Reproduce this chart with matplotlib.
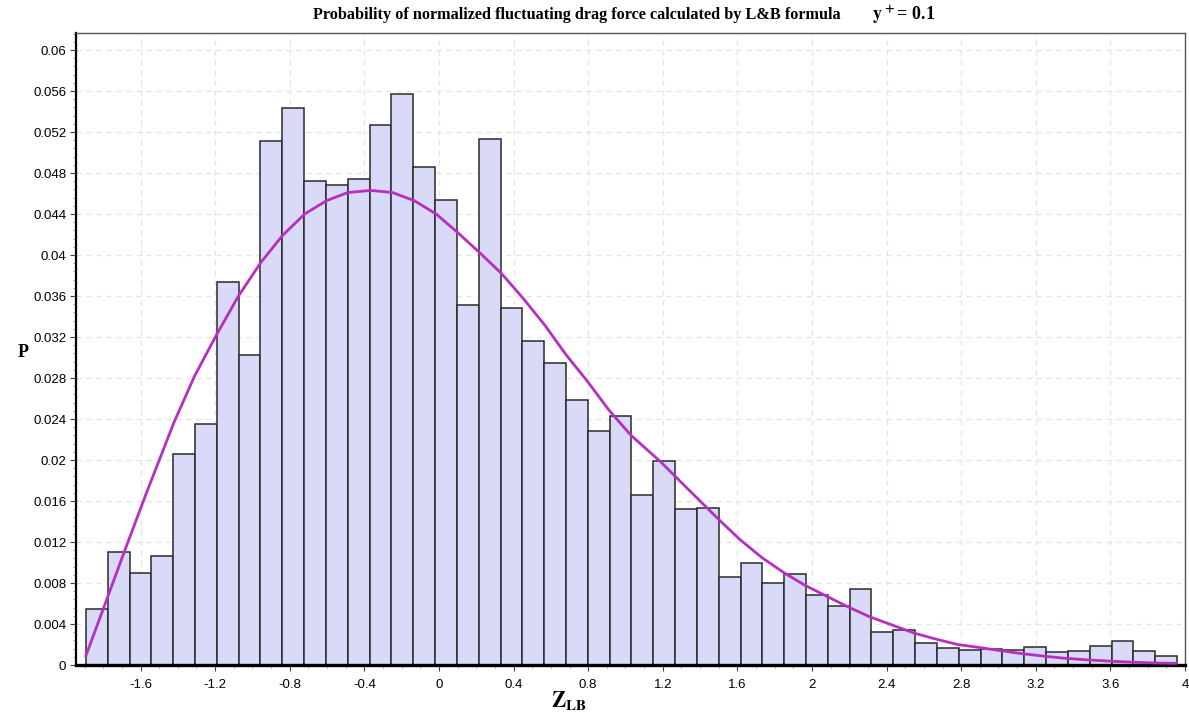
import numpy as np
import matplotlib.pyplot as plt
from matplotlib.ticker import MultipleLocator, FuncFormatter

plt.rcParams['mathtext.fontset'] = 'stix'

# histogram: 50 equal bins starting at bin_start
bin_start = -1.893
bin_width = 0.117
prob = [0.0055, 0.0110, 0.0090, 0.0106, 0.0206, 0.0235, 0.0374, 0.0302, 0.0511, 0.0543,
        0.0472, 0.0468, 0.0474, 0.0527, 0.0557, 0.0486, 0.0454, 0.0351, 0.0513, 0.0348,
        0.0316, 0.0295, 0.0259, 0.0228, 0.0243, 0.0166, 0.0199, 0.0152, 0.0153, 0.0086,
        0.0100, 0.0080, 0.0089, 0.0068, 0.0058, 0.0074, 0.0032, 0.0034, 0.0021, 0.0017,
        0.0015, 0.0016, 0.0015, 0.0018, 0.0013, 0.0014, 0.0019, 0.0023, 0.0014, 0.0009]

# fitted L&B density (per bin)
fit_z = [-1.893, -1.777, -1.684, -1.568, -1.42, -1.31, -1.19, -1.075, -0.954, -0.839, -0.72,
         -0.603, -0.488, -0.366, -0.25, -0.132, -0.015, 0.10, 0.22, 0.335, 0.45,
         0.57, 0.68, 0.795, 0.91, 1.03, 1.19, 1.30, 1.40, 1.50, 1.61,
         1.73, 1.85, 1.96, 2.08, 2.19, 2.31, 2.43, 2.55, 2.67, 2.78,
         2.90, 3.01, 3.13, 3.25, 3.36, 3.48, 3.60, 3.71, 3.83, 3.95]
fit_p = [0.0009, 0.0066, 0.0112, 0.0168, 0.0237, 0.0282, 0.0323, 0.0360, 0.0393, 0.0419, 0.0440,
         0.0453, 0.0461, 0.0463, 0.0461, 0.0453, 0.0440, 0.0422, 0.0402, 0.0382, 0.0358,
         0.0331, 0.0303, 0.0277, 0.0249, 0.0224, 0.0198, 0.0178, 0.0160, 0.0142, 0.0123,
         0.0105, 0.0090, 0.0078, 0.0067, 0.0057, 0.0047, 0.0039, 0.0031, 0.0025, 0.0020,
         0.0017, 0.0014, 0.0011, 0.00085, 0.00065, 0.0005, 0.00037, 0.00028, 0.0002, 0.00016]

edges = bin_start + bin_width * np.arange(len(prob))

fig = plt.figure(figsize=(11.89, 7.14), dpi=100)
ax = fig.add_axes([76 / 1189, 1 - 665 / 714, 1109 / 1189, 632 / 714])

ax.bar(edges, prob, width=bin_width, align='edge', color='#d9d9f8',
       edgecolor='#2a2a2a', linewidth=1.1, zorder=2)
ax.plot(fit_z, fit_p, color='#b52fc0', linewidth=2.0, zorder=3)

ax.set_xlim(-1.946, 4.0)
ax.set_ylim(0, 0.06166)

ax.xaxis.set_major_locator(MultipleLocator(0.4))
ax.xaxis.set_minor_locator(MultipleLocator(0.1))
ax.yaxis.set_major_locator(MultipleLocator(0.004))
ax.yaxis.set_minor_locator(MultipleLocator(0.0008))
ax.xaxis.set_major_formatter(FuncFormatter(lambda v, p: f'{round(v, 2):g}'))
ax.yaxis.set_major_formatter(FuncFormatter(lambda v, p: f'{round(v, 4):g}'))

ax.grid(True, which='major', color='#e2e2e2', linestyle=(0, (4, 4)), linewidth=0.9, zorder=0)
ax.set_axisbelow(True)

for lab in ax.get_xticklabels() + ax.get_yticklabels():
    lab.set_family('Liberation Sans')
    lab.set_fontsize(9.5)
ax.tick_params(axis='y', which='major', length=4, width=0.8, color='#444444', pad=3)
ax.tick_params(axis='x', which='major', length=4, width=0.8, color='#444444', pad=6)
ax.tick_params(which='minor', length=2, width=0.6, color='#888888')

ax.spines['left'].set_linewidth(1.6)
ax.spines['bottom'].set_linewidth(2.4)
ax.spines['top'].set_linewidth(1.0)
ax.spines['right'].set_linewidth(1.0)
ax.spines['top'].set_color('#555555')
ax.spines['right'].set_color('#555555')

ax.set_ylabel('P', rotation=0, family='Liberation Serif', fontweight='bold', fontsize=13,
              va='center', ha='center')
ax.yaxis.set_label_coords(-0.048, 0.495)
ax.set_xlabel(r'$\mathbf{Z_{LB}}$', fontsize=15.5, va='center')
ax.xaxis.set_label_coords(0.4447, -0.058)

fig.text(313 / 1189, 1 - 15 / 714,
         'Probability of normalized fluctuating drag force calculated by L&B formula',
         family='Liberation Serif', fontweight='bold', fontsize=11.7, va='center', ha='left')
fig.text(872 / 1189, 1 - 15 / 714, r'$\mathbf{y^{\,+}}$' + '= 0.1',
         family='Liberation Serif', fontweight='bold', fontsize=13, va='center', ha='left')

fig.savefig('out.png', dpi=100, facecolor='white')
